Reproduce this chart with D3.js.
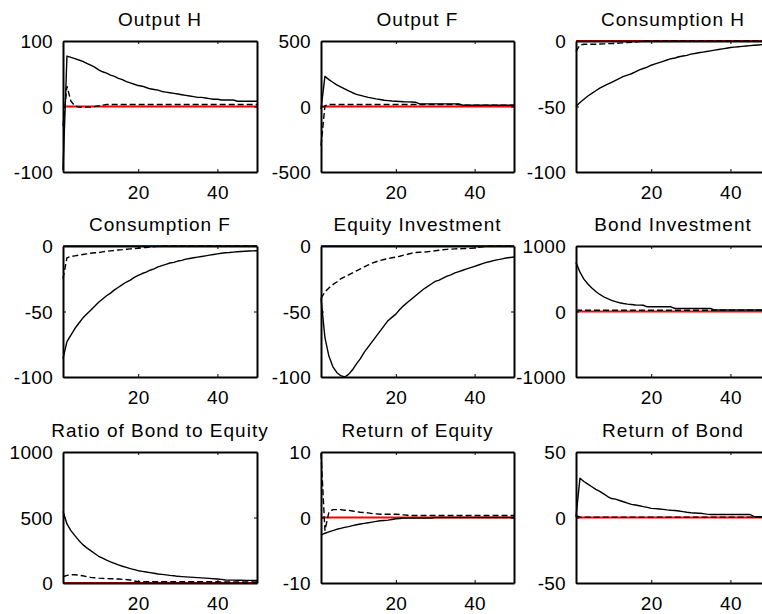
<!DOCTYPE html>
<html>
<head>
<meta charset="utf-8">
<script src="https://cdn.jsdelivr.net/npm/d3@7"></script>
<style>
  html, body { margin: 0; padding: 0; background: #fff; }
  svg { display: block; }
  text { font-family: "Liberation Sans", Arial, Helvetica, sans-serif; fill: #000; }
</style>
</head>
<body>
<svg id="chart" width="762" height="614"></svg>
<script>
// ---------------- DATA ----------------
const periods = d3.range(1, 51);
const xTicks = [20, 40];

const titles = ["Output H", "Output F", "Consumption H",
                "Consumption F", "Equity Investment", "Bond Investment",
                "Ratio of Bond to Equity", "Return of Equity", "Return of Bond"];

const yTicks = [[-100, 0, 100], [-500, 0, 500], [-100, -50, 0],
                [-100, -50, 0], [-100, -50, 0], [-1000, 0, 1000],
                [0, 500, 1000], [-10, 0, 10], [-50, 0, 50]];

const outputH_solid = [-97,77,75,73,71,69,66,63,60,56,53,51,48,46,43,41,38,36,34,32,31,29,27,26,25,23,22,21,20,19,18,17,16,15,14,14,13,12,11,11,10,10,10,10,8,8,8,8,8,8];
const outputH_dashed = [-30,31,8,1,-1,-1,-1,-1,0,1,2,3,3,3,3,3,3,3,3,3,3,3,3,3,3,3,3,3,3,3,3,3,3,3,3,3,3,3,3,3,3,3,3,3,3,3,3,3,3,3];

const outputF_solid = [-20,230,205,185,165,150,135,120,105,93,85,77,70,64,58,53,48,45,42,40,38,36,35,34,33,20,20,20,20,20,20,20,20,20,20,20,10,10,10,10,10,10,10,10,10,10,10,10,10,10];
const outputF_dashed = [-300,5,15,15,15,15,15,15,15,15,15,15,15,15,15,15,15,15,15,15,15,15,15,15,15,15,15,15,15,15,15,15,15,15,15,15,10,10,10,10,10,10,10,10,10,10,10,10,10,10];

const consH_solid = [-50,-47,-44.5,-42,-40,-38,-36,-34.5,-33,-31.5,-30,-28.5,-27,-26,-25,-23.5,-22,-21,-20,-18.5,-17.5,-16.5,-15.5,-14.5,-13.5,-13,-12,-11.5,-11,-10,-9.5,-9,-8.5,-8,-7.5,-7,-6.5,-6,-5.5,-5,-4.7,-4.4,-4.1,-3.8,-3.5,-3.2,-3,-2.8,-2.6,-2.5];
const consH_dashed = [-8,-3,-2.5,-2.5,-2.5,-2.5,-2.3,-2.2,-2,-2,-1.8,-1.6,-1.4,-1.2,-1,-0.8,-0.5,0,0,0,0,0,0,0,0,0,0,0,0,0,0,0,0,0,0,0,0,0,0,0,0,0,0,0,0,0,0,0,0,0];

const consF_solid = [-86,-73,-68,-63,-59,-55,-52,-49,-46,-43,-40.5,-38,-36,-33.5,-31.5,-29.5,-27.5,-26,-24,-22.5,-21,-20,-18.5,-17.5,-16,-15,-14,-13,-12.5,-11.5,-11,-10,-9.5,-9,-8.5,-8,-7.5,-7,-6.5,-6,-5.5,-5.2,-5,-4.7,-4.4,-4.2,-4,-3.8,-3.7,-3.6];
const consF_dashed = [-25,-9,-8,-7.5,-7,-6.5,-6,-5.5,-5.2,-5,-4.5,-4,-3.7,-3.4,-3,-2.8,-2.5,-2.2,-2,-1.7,-1.4,-1.1,-0.8,-0.5,-0.2,0,0,0,0,0,0,0,0,0,0,0,0,0,0,0,0,0,0,0,0,0,0,0,0,0];

const equity_solid = [-40,-70,-84,-92,-96.5,-99,-100,-98,-94.5,-90,-86,-81,-77,-73,-69,-65,-61,-57,-54.5,-52,-48.5,-45.5,-43,-40.5,-38,-35.5,-33,-31,-29,-27,-26,-24.5,-23,-22,-20.5,-19.5,-18.5,-17.5,-16.5,-15.5,-14.5,-13.5,-12.5,-11.8,-11,-10.4,-9.8,-9.2,-8.8,-8.4];
const equity_dashed = [-40,-35,-32,-29.5,-27.5,-25,-23.5,-22,-20.5,-19,-17.5,-16,-14.5,-13,-12,-11,-10.3,-9.7,-9,-8.5,-7.8,-7,-6.3,-5.5,-5,-4.8,-4.6,-4.4,-4,-3.6,-3.2,-2.9,-2.6,-2.4,-2.2,-2.1,-2,-1.9,-1.8,-1.5,-1,-0.6,-0.2,0,0,0,0,0,0,0];

const bond_solid = [750,600,495,420,360,305,260,225,195,170,150,133,122,113,106,100,98,95,72,72,72,72,72,72,72,46,46,46,46,46,46,46,46,46,46,22,22,22,22,22,22,22,22,22,22,22,22,22,22,22];
const bond_dashed = [25,20,20,20,20,20,20,20,20,20,20,20,20,20,20,20,20,20,20,20,20,20,20,20,20,20,20,20,20,20,20,20,20,20,20,20,20,20,20,20,20,20,20,20,20,20,20,20,20,20];

const ratio_solid = [548,451,400,362,325,293,268,247,225,204,190,175,162,150,138,128,119,110,102,94,89,84,79,74,69,66,62,58,55,51,49,47,45,43,41,39,37,35,33,31,28,23,22,22,21,21,20,20,20,20];
const ratio_dashed = [48,58,63,63,60,55,48,43,40,37,35,34,33,32,30,28,26,23,15,10,10,10,10,10,10,10,10,10,10,10,10,10,10,10,10,10,10,10,10,10,8,8,8,8,8,8,8,8,8,8];

const retEq_solid = [-2.7,-2.4,-2.2,-2,-1.8,-1.65,-1.5,-1.4,-1.25,-1.1,-1,-0.9,-0.8,-0.7,-0.6,-0.5,-0.45,-0.4,-0.3,-0.2,-0.15,-0.1,-0.1,-0.1,-0.1,-0.1,-0.1,-0.1,-0.1,0,0,0,0,0,0,0,0,0,0,0,0,0,0,0,0,0,0,0,0,0];
const retEq_dashed = [9.8,-2,0.8,1.2,1.2,1.2,1.1,1.1,1,0.9,0.8,0.75,0.7,0.6,0.55,0.5,0.5,0.5,0.5,0.5,0.45,0.4,0.35,0.3,0.3,0.3,0.3,0.3,0.3,0.3,0.3,0.3,0.3,0.3,0.3,0.3,0.3,0.3,0.3,0.3,0.3,0.3,0.3,0.3,0.3,0.3,0.3,0.3,0.3,0.3];

const retBond_solid = [0.5,30,27.5,25.5,23.5,21.5,20,18,16,14.5,14,13,12,11,10,9.5,9,8.3,7.7,7,6.8,6.5,6.2,5.8,5.5,5.3,5,4.5,4,3.6,3.4,3.2,3,2.6,2.3,2.3,2.3,2.3,2.3,2.3,2.3,2.3,2.3,2.3,2.3,0.6,0.6,0.6,0.6,0.6];
const retBond_dashed = [1.5,0.3,0.3,0.3,0.3,0.3,0.3,0.3,0.3,0.3,0.3,0.3,0.3,0.3,0.3,0.3,0.3,0.3,0.3,0.3,0.3,0.3,0.3,0.3,0.3,0.3,0.3,0.3,0.3,0.3,0.3,0.3,0.3,0.3,0.3,0.3,0.3,0.3,0.3,0.3,0.3,0.3,0.3,0.3,0.3,0.3,0.3,0.3,0.3,0.3];

const solidSeries = [outputH_solid, outputF_solid, consH_solid, consF_solid, equity_solid, bond_solid, ratio_solid, retEq_solid, retBond_solid];
const dashedSeries = [outputH_dashed, outputF_dashed, consH_dashed, consF_dashed, equity_dashed, bond_dashed, ratio_dashed, retEq_dashed, retBond_dashed];

// ---------------- LAYOUT ----------------
const colX = [63, 321, 576];
const colW = [194, 193, 194];
const rowY = [41, 246, 452];
const rowH = 131;

const svg = d3.select("#chart");
const fmt = d => String(d); // plain hyphen-minus like MATLAB

titles.forEach((title, i) => {
  const r = Math.floor(i / 3), c = i % 3;
  const x0 = colX[c], y0 = rowY[r], w = colW[c], h = rowH;
  const yt = yTicks[i];
  const x = d3.scaleLinear().domain([1, 50]).range([0, w]);
  const y = d3.scaleLinear().domain([yt[0], yt[2]]).range([h, 0]);

  const g = svg.append("g").attr("transform", `translate(${x0},${y0})`);

  const line = d3.line().x((d, k) => x(periods[k])).y(d => y(d));

  // zero line (red)
  g.append("path")
    .datum(periods.map(() => 0))
    .attr("d", line)
    .attr("fill", "none").attr("stroke", "#ff0000").attr("stroke-width", 2);

  g.append("path")
    .datum(solidSeries[i])
    .attr("d", line)
    .attr("fill", "none").attr("stroke", "#000").attr("stroke-width", 1.4)
    .attr("stroke-linejoin", "round");

  g.append("path")
    .datum(dashedSeries[i])
    .attr("d", line)
    .attr("fill", "none").attr("stroke", "#000").attr("stroke-width", 1.4)
    .attr("stroke-dasharray", "6,3");

  // axes (MATLAB-style box with inward ticks)
  const axB = g.append("g").attr("transform", `translate(0,${h})`)
    .call(d3.axisBottom(x).tickValues(xTicks).tickSizeInner(-3).tickSizeOuter(0).tickPadding(10).tickFormat(fmt));
  const axT = g.append("g")
    .call(d3.axisTop(x).tickValues(xTicks).tickSizeInner(-3).tickSizeOuter(0).tickFormat(""));
  const axL = g.append("g")
    .call(d3.axisLeft(y).tickValues(yt).tickSizeInner(-3).tickSizeOuter(0).tickPadding(10).tickFormat(fmt));
  const axR = g.append("g").attr("transform", `translate(${w},0)`)
    .call(d3.axisRight(y).tickValues(yt).tickSizeInner(-3).tickSizeOuter(0).tickFormat(""));

  [axB, axT, axL, axR].forEach(a => {
    a.select(".domain").attr("stroke", "#000").attr("stroke-width", 2);
    a.selectAll(".tick line").attr("stroke", "#000").attr("stroke-width", 1);
    a.selectAll("text")
      .style("font-size", "19px")
      .style("letter-spacing", "0.3px")
      .attr("fill", "#000");
  });
  axB.selectAll("text").attr("dy", "0.9em");
  axL.selectAll("text").attr("dy", "0.35em");

  g.append("text")
    .attr("x", w / 2)
    .attr("y", -15)
    .attr("text-anchor", "middle")
    .style("font-size", "19px")
    .style("letter-spacing", "1px")
    .text(title);
});
</script>
</body>
</html>
